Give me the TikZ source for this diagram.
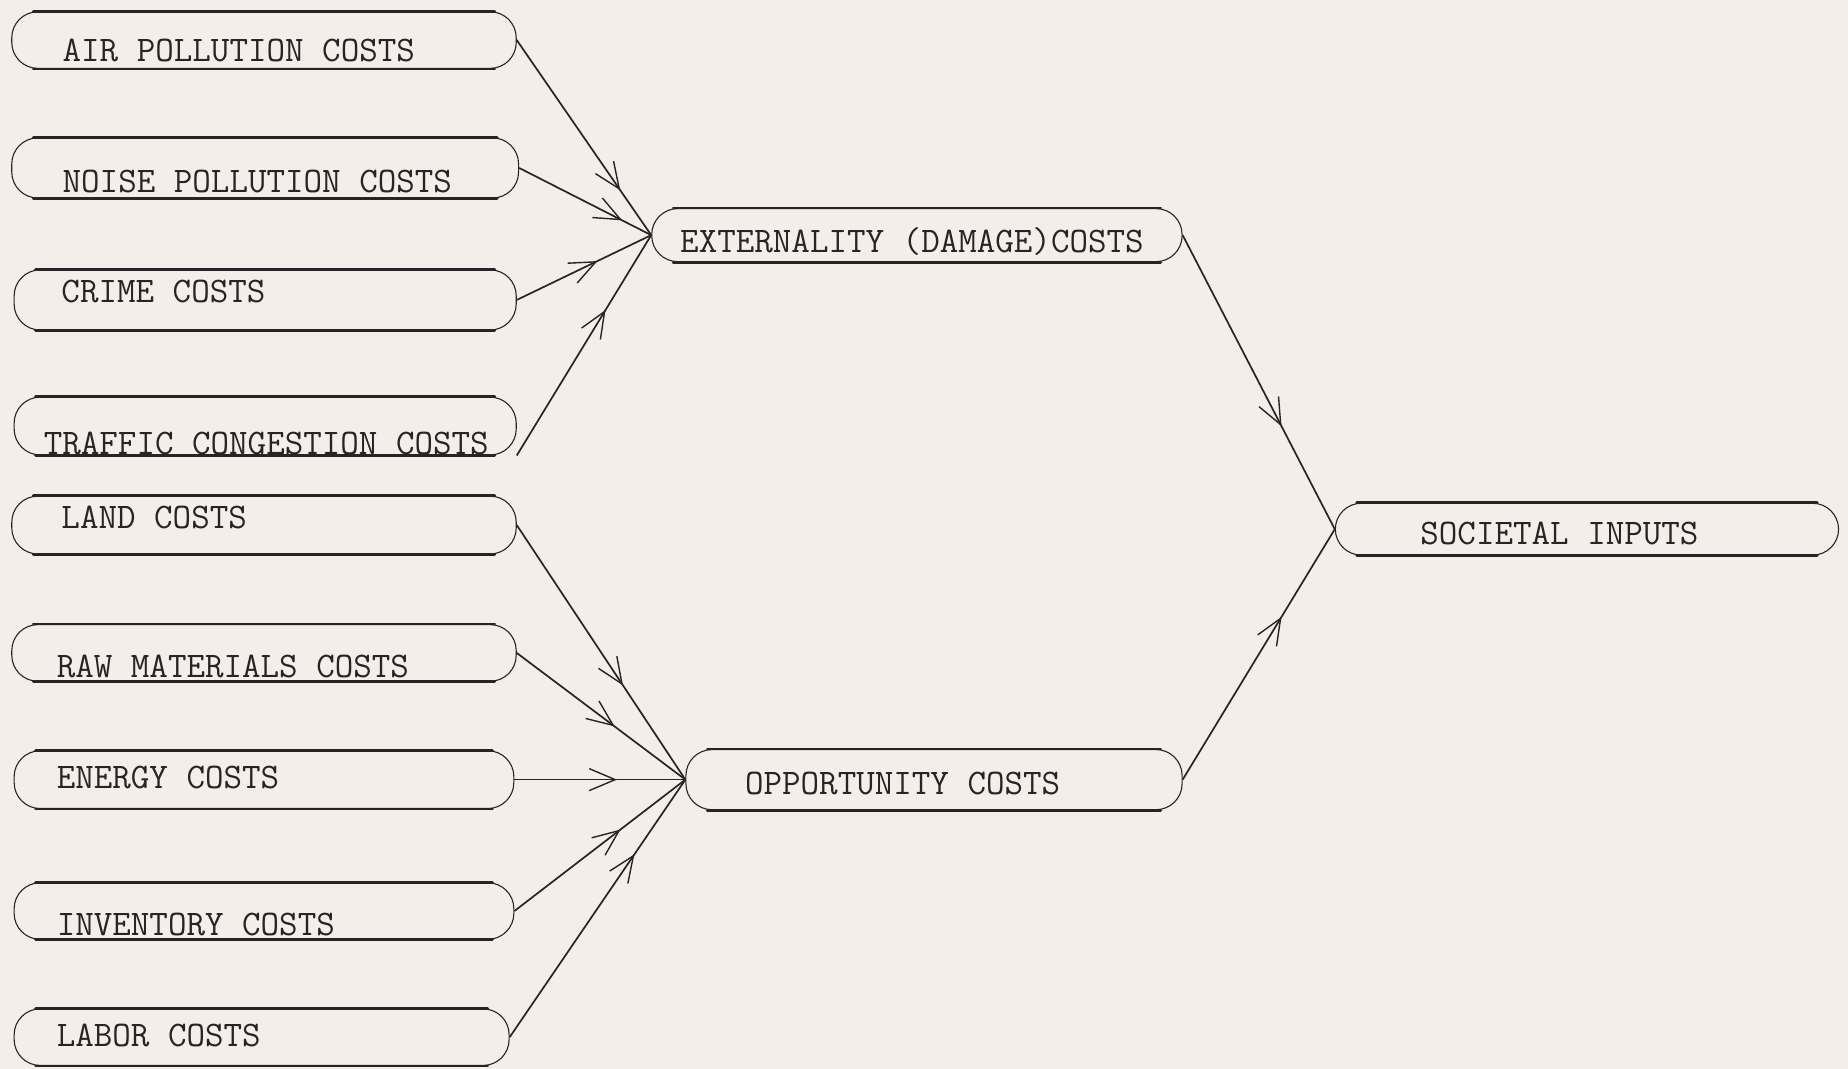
\documentclass[tikz,border=0pt]{standalone}
\usepackage{fontspec}
\usetikzlibrary{arrows.meta,decorations.markings,fit}
\definecolor{paper}{HTML}{F3EEEA}
\definecolor{ink}{HTML}{2A2224}
\tikzset{
  box/.style={draw=ink, line width=1.1pt, rounded corners=26pt, inner sep=0pt},
  lbl/.style={anchor=base west, inner sep=0pt, text=ink,
    font=\ttfamily\fontsize{36}{40}\selectfont},
  flow/.style={draw=ink, line width=1.7pt, postaction={decorate},
    decoration={markings, mark=at position #1 with
      {\arrow[ink,line width=1.4pt]{Straight Barb[length=26pt,width=22pt]}}}},
  rule/.style={draw=ink, line width=2.8pt, line cap=round}
}
\begin{document}
\begin{tikzpicture}[x=1.1786pt,y=-1.1786pt]
\fill[paper] (0,0) rectangle (1568,907);
\useasboundingbox (0,0) rectangle (1568,907);

% source boxes, left column
\node[box, fit={(10,10) (438,58)}]   (air)   {};
\node[box, fit={(10,117) (440,168)}] (noise) {};
\node[box, fit={(12,229) (438,280)}] (crime) {};
\node[box, fit={(12,337) (438,386)}] (traffic) {};
\node[box, fit={(10,421) (438,470)}] (land)  {};
\node[box, fit={(10,530) (438,578)}] (raw)   {};
\node[box, fit={(12,637) (436,686)}] (energy) {};
\node[box, fit={(12,749) (436,797)}] (inv)   {};
\node[box, fit={(12,856) (432,904)}] (labor) {};

% intermediate and final boxes
\node[box, fit={(553,177) (1003,222)}]  (ext) {};
\node[box, fit={(582,636) (1003,687)}]  (opp) {};
\node[box, fit={(1133,427) (1560,471)}] (soc) {};

% heavy typed rules along top and bottom edges
\foreach \n in {air,noise,crime,traffic,land,raw,energy,inv,labor,ext,opp,soc}{
  \draw[rule] ([xshift=22pt]\n.north west) -- ([xshift=-22pt]\n.north east);
  \draw[rule] ([xshift=22pt]\n.south west) -- ([xshift=-22pt]\n.south east);
}

% labels
\node[lbl] (airT)     at (53,52)   {AIR POLLUTION COSTS};
\node[lbl] (noiseT)   at (53,163)  {NOISE POLLUTION COSTS};
\node[lbl] (crimeT)   at (52,257)  {CRIME COSTS};
\node[lbl] (trafficT) at (37,386)  {TRAFFIC CONGESTION COSTS};
\node[lbl] (landT)    at (52,448)  {LAND COSTS};
\node[lbl] (rawT)     at (48,575)  {RAW MATERIALS COSTS};
\node[lbl] (energyT)  at (48,669)  {ENERGY COSTS};
\node[lbl] (invT)     at (48,794)  {INVENTORY COSTS};
\node[lbl] (laborT)   at (48,888)  {LABOR COSTS};
\node[lbl] (extT)     at (577,214) {EXTERNALITY (DAMAGE)COSTS};
\node[lbl] (oppT)     at (632,674) {OPPORTUNITY COSTS};
\node[lbl] (socT)     at (1205,462) {SOCIETAL INPUTS};

% flows into externality costs
\draw[flow=0.77] (air.east)   -- (ext.west);
\draw[flow=0.78] (noise.east) -- (ext.west);
\draw[flow=0.60] (crime.east) -- (ext.west);
\draw[flow=0.66] (traffic.south east) -- (ext.west);

% flows into opportunity costs
\draw[flow=0.63] (land.east)   -- (opp.west);
\draw[flow=0.58] (raw.east)    -- (opp.west);
\draw[flow=0.60] (energy.east) -- (opp.west);
\draw[flow=0.62] (inv.east)    -- (opp.west);
\draw[flow=0.71] (labor.east)  -- (opp.west);

% flows into societal inputs
\draw[flow=0.65] (ext.east) -- (soc.west);
\draw[flow=0.65] (opp.east) -- (soc.west);
\end{tikzpicture}
\end{document}
